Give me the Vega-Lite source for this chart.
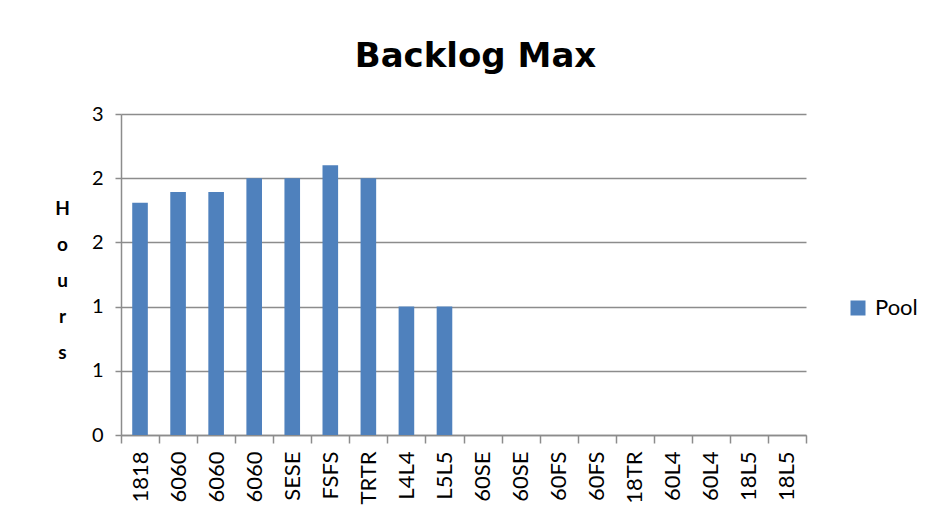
{
  "$schema": "https://vega.github.io/schema/vega-lite/v6.json",
  "width": 685,
  "height": 321,
  "autosize": {"type": "none"},
  "padding": {"left": 121, "top": 114, "right": 131, "bottom": 90},
  "background": "white",
  "config": {"view": {"stroke": null}},
  "title": {
    "text": "Backlog Max",
    "font": "DejaVu Sans",
    "fontWeight": "bold",
    "fontSize": 34,
    "color": "#000000",
    "anchor": "middle",
    "dx": 12,
    "baseline": "alphabetic",
    "offset": 3
  },
  "data": {
    "values": [
      {"category": "1818", "hours": 2.17, "series": "Pool"},
      {"category": "6060", "hours": 2.27, "series": "Pool"},
      {"category": "6060\u200b", "hours": 2.27, "series": "Pool"},
      {"category": "6060\u200b\u200b", "hours": 2.4, "series": "Pool"},
      {"category": "SESE", "hours": 2.4, "series": "Pool"},
      {"category": "FSFS", "hours": 2.52, "series": "Pool"},
      {"category": "TRTR", "hours": 2.4, "series": "Pool"},
      {"category": "L4L4", "hours": 1.2, "series": "Pool"},
      {"category": "L5L5", "hours": 1.2, "series": "Pool"},
      {"category": "60SE", "hours": 0, "series": "Pool"},
      {"category": "60SE\u200b", "hours": 0, "series": "Pool"},
      {"category": "60FS", "hours": 0, "series": "Pool"},
      {"category": "60FS\u200b", "hours": 0, "series": "Pool"},
      {"category": "18TR", "hours": 0, "series": "Pool"},
      {"category": "60L4", "hours": 0, "series": "Pool"},
      {"category": "60L4\u200b", "hours": 0, "series": "Pool"},
      {"category": "18L5", "hours": 0, "series": "Pool"},
      {"category": "18L5\u200b", "hours": 0, "series": "Pool"}
    ]
  },
  "mark": {"type": "bar", "width": {"band": 0.41}},
  "encoding": {
    "x": {
      "field": "category",
      "type": "nominal",
      "sort": null,
      "scale": {"paddingInner": 0, "paddingOuter": 0},
      "axis": {
        "title": null,
        "labelAngle": -90,
        "labelAlign": "right",
        "labelBaseline": "middle",
        "labelFont": "Lato",
        "labelFontSize": 22,
        "labelColor": "#000000",
        "labelPadding": 8,
        "tickBand": "extent",
        "tickSize": 8,
        "tickColor": "#8c8c8c",
        "tickWidth": 1.5,
        "domainColor": "#8c8c8c",
        "domainWidth": 1.5,
        "grid": false
      }
    },
    "y": {
      "field": "hours",
      "type": "quantitative",
      "scale": {"domain": [0, 3], "nice": false},
      "axis": {
        "values": [0, 0.6, 1.2, 1.8, 2.4, 3],
        "format": ".0f",
        "title": ["H", "o", "u", "r", "s"],
        "titleAngle": 0,
        "titleFont": "Lato",
        "titleFontWeight": "bold",
        "titleFontSize": 19,
        "titleColor": "#000000",
        "titleAlign": "center",
        "titleBaseline": "top",
        "titleLineHeight": 36,
        "titleX": -59,
        "titleY": 85,
        "labelFont": "Lato",
        "labelFontSize": 20,
        "labelColor": "#000000",
        "labelPadding": 12,
        "tickSize": 6,
        "tickColor": "#8c8c8c",
        "tickWidth": 1.5,
        "domainColor": "#8c8c8c",
        "domainWidth": 1.5,
        "grid": true,
        "gridColor": "#8c8c8c",
        "gridWidth": 1.5
      }
    },
    "color": {
      "field": "series",
      "type": "nominal",
      "scale": {"range": ["#4f81bd"]},
      "legend": {
        "title": null,
        "orient": "none",
        "legendX": 726,
        "legendY": 183,
        "symbolType": "square",
        "symbolSize": 225,
        "symbolStrokeWidth": 0,
        "labelFont": "Lato",
        "labelFontSize": 22,
        "labelColor": "#000000",
        "labelOffset": 6
      }
    }
  }
}
